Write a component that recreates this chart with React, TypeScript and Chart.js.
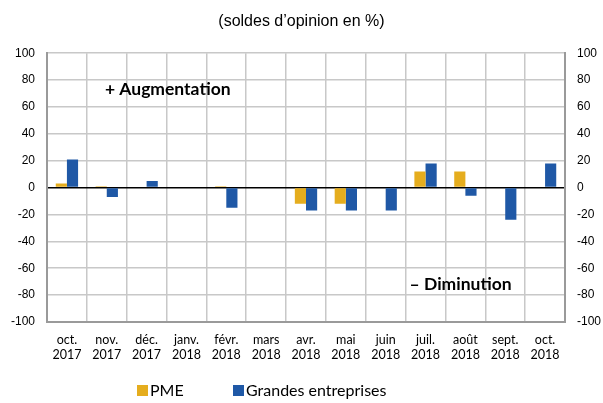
import React, { useEffect, useRef } from "react";
import { Chart, registerables } from "chart.js";

Chart.register(...registerables);

const categories: string[][] = [
  ["oct.", "2017"], ["nov.", "2017"], ["déc.", "2017"], ["janv.", "2018"], ["févr.", "2018"],
  ["mars", "2018"], ["avr.", "2018"], ["mai", "2018"], ["juin", "2018"], ["juil.", "2018"],
  ["août", "2018"], ["sept.", "2018"], ["oct.", "2018"],
];
const pme: number[] = [3, 1, 0, 0, 1, 0, -12, -12, 0, 12, 12, 0, 0];
const grandes: number[] = [21, -7, 5, 0, -15, 0, -17, -17, -17, 18, -6, -24, 18];
const yTicks: number[] = [100, 80, 60, 40, 20, 0, -20, -40, -60, -80, -100];

const PME_COLOR = "#E5AD1E";
const GE_COLOR = "#1F58A6";

const annotationPlugin = {
  id: "annotText",
  afterDraw(chart: any) {
    const { ctx, scales } = chart;
    const x = scales.x, y = scales.y;
    ctx.save();
    ctx.font = "bold 17.5px 'Lato', 'Open Sans', sans-serif";
    ctx.fillStyle = "#000";
    ctx.textAlign = "center";
    ctx.textBaseline = "middle";
    ctx.fillText("+ Augmentation", x.getPixelForValue(2.53), y.getPixelForValue(73));
    ctx.fillText("\u2013 Diminution", x.getPixelForValue(9.88), y.getPixelForValue(-72));
    // custom legend
    const items = [
      { label: "PME", color: PME_COLOR, bx: 137 },
      { label: "Grandes entreprises", color: GE_COLOR, bx: 233 },
    ];
    ctx.font = "16px 'Lato', 'Open Sans', sans-serif";
    ctx.textAlign = "left";
    for (const it of items) {
      ctx.fillStyle = it.color;
      ctx.fillRect(it.bx, 385, 11, 11);
      ctx.fillStyle = "#000";
      ctx.fillText(it.label, it.bx + 13, 391);
    }
    ctx.restore();
  },
};

export default function App() {
  const ref = useRef<HTMLCanvasElement>(null);
  useEffect(() => {
    if (!ref.current) return;
    const tickFont = { family: "'Liberation Sans', Arial, sans-serif", size: 12 };
    const chart = new Chart(ref.current, {
      type: "bar",
      data: {
        labels: categories,
        datasets: [
          { label: "PME", data: pme, backgroundColor: PME_COLOR, barPercentage: 1, categoryPercentage: 0.56 },
          { label: "Grandes entreprises", data: grandes, backgroundColor: GE_COLOR, barPercentage: 1, categoryPercentage: 0.56 },
        ],
      },
      options: {
        animation: false,
        responsive: false,
        maintainAspectRatio: false,
        layout: { padding: { left: 0, right: 0, top: 0, bottom: 31 } },
        plugins: {
          legend: { display: false },
          tooltip: { enabled: false },
          title: {
            display: true,
            text: "(soldes d\u2019opinion en %)",
            color: "#000",
            font: { family: "'Liberation Sans', Arial, sans-serif", size: 16, weight: "normal" },
            padding: { top: 12, bottom: 22 },
          },
        },
        scales: {
          x: {
            grid: { color: "#C8C8C8", lineWidth: 1.5, drawTicks: false, offset: true },
            border: { color: "#9A9A9A", width: 2 },
            ticks: { color: "#000", font: { family: "'Lato', 'Open Sans', sans-serif", size: 12.5 }, padding: 10, maxRotation: 0, autoSkip: false },
          },
          y: {
            min: -100, max: 100,
            afterBuildTicks: (s: any) => { s.ticks = yTicks.map((v) => ({ value: v })); },
            afterFit: (s: any) => { s.width = 47; },
            grid: {
              color: (c: any) => (c.tick && c.tick.value === 0 ? "#000" : "#C8C8C8"),
              lineWidth: 1.5,
              drawTicks: false,
            },
            border: { color: "#9A9A9A", width: 2 },
            ticks: { color: "#000", font: tickFont, padding: 12 },
          },
          y2: {
            position: "right",
            min: -100, max: 100,
            afterBuildTicks: (s: any) => { s.ticks = yTicks.map((v) => ({ value: v })); },
            afterFit: (s: any) => { s.width = 38; },
            grid: { display: false, drawTicks: false },
            border: { color: "#9A9A9A", width: 2 },
            ticks: { color: "#000", font: tickFont, padding: 12 },
          },
        },
      },
      plugins: [annotationPlugin],
    } as any);
    return () => chart.destroy();
  }, []);
  return (
    <div style={{ position: "fixed", left: 0, top: 0, width: 603, height: 403, background: "#fff" }}>
      <canvas ref={ref} width={603} height={403} style={{ display: "block" }} />
    </div>
  );
}
